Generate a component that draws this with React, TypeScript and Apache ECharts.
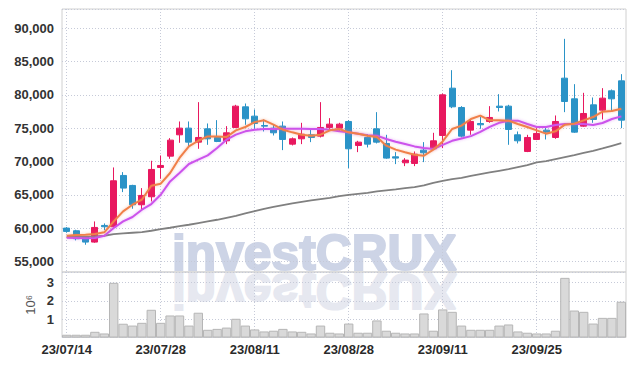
import React, { useEffect, useRef } from 'react';
import * as echarts from 'echarts';

const dates = [
  '23/07/14', '23/07/17', '23/07/18', '23/07/19', '23/07/20', '23/07/21', '23/07/24', '23/07/25', '23/07/26', '23/07/27',
  '23/07/28', '23/07/31', '23/08/01', '23/08/02', '23/08/03', '23/08/04', '23/08/07', '23/08/08', '23/08/09', '23/08/10',
  '23/08/11', '23/08/14', '23/08/16', '23/08/17', '23/08/18', '23/08/21', '23/08/22', '23/08/23', '23/08/24', '23/08/25',
  '23/08/28', '23/08/29', '23/08/30', '23/08/31', '23/09/01', '23/09/04', '23/09/05', '23/09/06', '23/09/07', '23/09/08',
  '23/09/11', '23/09/12', '23/09/13', '23/09/14', '23/09/15', '23/09/18', '23/09/19', '23/09/20', '23/09/21', '23/09/22',
  '23/09/25', '23/09/26', '23/09/27', '23/10/04', '23/10/05', '23/10/06', '23/10/10', '23/10/11', '23/10/12', '23/10/13',
];

const opens = [
  60000, 59600, 58700, 57900, 60400, 60200, 67900, 66400, 63500, 64700,
  69100, 70800, 74000, 75000, 72900, 74900, 73600, 73100, 75100, 78200,
  76800, 75400, 75000, 75300, 72600, 73400, 74000, 73800, 75100, 75000,
  76000, 72400, 73600, 74900, 72700, 70700, 69800, 69700, 71700, 71900,
  73900, 81000, 78100, 74700, 75700, 76000, 78300, 78300, 74000, 71500,
  73300, 74700, 73600, 82500, 79400, 75300, 78500, 77700, 80600, 82100,
];
const closes = [
  59500, 58400, 57900, 60100, 60200, 67100, 66000, 63500, 64900, 68800,
  69400, 73200, 75000, 72900, 73600, 73400, 73000, 74300, 78300, 76400,
  75700, 75300, 74300, 73300, 73400, 74100, 73600, 75100, 75600, 75600,
  71900, 72900, 72600, 72900, 70500, 70500, 70200, 71100, 71300, 73100,
  80000, 78200, 73800, 76000, 75500, 76600, 78100, 74800, 73100, 73600,
  74200, 74400, 76000, 79000, 74400, 77200, 76300, 79500, 79400, 76200,
];
const lows = [
  59300, 58150, 57500, 57800, 59700, 60100, 65400, 62900, 62800, 64000,
  67400, 70400, 72800, 72200, 71900, 72500, 72900, 72600, 75000, 75500,
  74900, 74500, 73900, 71700, 72400, 72600, 72900, 73600, 74600, 74600,
  69000, 71400, 72100, 72700, 70400, 69600, 69300, 69300, 69900, 71800,
  72000, 78000, 73600, 74000, 74900, 75800, 77500, 72500, 72700, 71400,
  73200, 73300, 73400, 77400, 74300, 75200, 75800, 76300, 77500, 75000,
];
const highs = [
  60150, 59750, 58750, 61000, 60700, 69100, 68400, 66500, 66000, 70100,
  70900, 73500, 76000, 76000, 78900, 75700, 76200, 75300, 78500, 78700,
  77800, 76300, 75500, 76000, 73600, 75800, 74800, 78900, 76500, 75800,
  76200, 73100, 74100, 77400, 74000, 71400, 70500, 71500, 72900, 74300,
  80200, 83700, 78300, 76300, 76700, 78300, 80100, 78500, 74500, 74000,
  75000, 75100, 76900, 88400, 81600, 80300, 79600, 81000, 80800, 83100,
];

// volume, in millions of shares
const volumeMillions = [
  0.15, 0.15, 0.15, 0.31, 0.22, 2.98, 0.75, 0.65, 0.8, 1.51,
  0.8, 1.2, 1.2, 0.65, 1.35, 0.42, 0.47, 0.54, 1.02, 0.65,
  0.44, 0.33, 0.37, 0.47, 0.33, 0.31, 0.22, 0.65, 0.26, 0.22,
  0.76, 0.26, 0.26, 0.93, 0.37, 0.26, 0.22, 0.22, 1.31, 0.37,
  1.53, 1.4, 0.65, 0.42, 0.42, 0.42, 0.65, 0.71, 0.33, 0.26,
  0.22, 0.22, 0.37, 3.25, 1.47, 1.4, 0.76, 1.07, 1.07, 1.95,
];

const ma5 = [
  58860, 58960, 59010, 59110, 59360, 61000, 62510, 63510, 64260, 66360,
  66660, 68270, 70520, 72260, 73110, 73760, 73760, 73670, 74670, 75170,
  75900, 76170, 75520, 74770, 74370, 74020, 73870, 74020, 74670, 74870,
  74370, 74170, 73870, 73670, 72370, 71770, 71370, 71020, 70860, 71770,
  73010, 74870, 75370, 76370, 76870, 76170, 76170, 76120, 75620, 75170,
  74670, 74170, 74520, 75520, 75670, 76170, 76670, 77470, 77570, 77920,
];
const ma10 = [
  58560, 58510, 58460, 58510, 58860, 60010, 61010, 61660, 62760, 63610,
  65010, 67010, 68270, 69620, 70270, 70910, 72010, 73270, 74020, 74520,
  74770, 74870, 74870, 74920, 74920, 74920, 74870, 74870, 74770, 74520,
  74370, 74170, 73920, 73870, 73370, 72960, 72620, 72260, 72010, 71870,
  72500, 73100, 73450, 73800, 74450, 75200, 75800, 76120, 76120, 75620,
  75170, 75170, 75470, 75620, 75620, 75620, 75470, 75770, 76370, 76770,
];
const maLong = [
  58700, 58700, 58700, 58750, 58850, 59100, 59200, 59300, 59400, 59600,
  59850, 60050, 60300, 60500, 60750, 61000, 61250, 61550, 61850, 62200,
  62550, 62900, 63200, 63450, 63700, 63950, 64150, 64350, 64550, 64800,
  65000, 65150, 65300, 65500, 65650, 65800, 66000, 66150, 66400, 66800,
  67100, 67350, 67550, 67850, 68100, 68350, 68600, 68850, 69150, 69450,
  69850, 70050, 70350, 70650, 70950, 71300, 71600, 71950, 72350, 72750,
];

const UP = '#e8185f';
const DOWN = '#2a93c7';
const GRID_LINE = '#c6cad8';
const LABEL_FONT = '"Liberation Sans", Arial, sans-serif';

export default function App() {
  const ref = useRef<HTMLDivElement>(null);

  useEffect(() => {
    if (!ref.current) return;
    const chart = echarts.init(ref.current, null, { renderer: 'svg' });
    const dotted = { color: GRID_LINE, width: 1, type: [1, 2] as number[] };
    const wmStyle = {
      text: 'investCRUX',
      fontFamily: '"Liberation Sans", Arial, sans-serif',
      fontWeight: 'bold',
      fontSize: 50.5,
      textAlign: 'left',
      align: 'left',
      textVerticalAlign: 'middle',
      verticalAlign: 'middle',
      lineWidth: 2,
    };
    const option: any = {
      animation: false,
      backgroundColor: '#ffffff',
      graphic: [
        {
          type: 'text',
          x: 172,
          y: 291.5,
          scaleX: 0.985,
          scaleY: -1,
          z: -10,
          silent: true,
          style: { ...wmStyle, fill: '#e6e8f0', stroke: '#e6e8f0' },
        },
        {
          type: 'text',
          x: 172,
          y: 252.5,
          scaleX: 0.985,
          z: -10,
          silent: true,
          style: { ...wmStyle, fill: '#cdd4e6', stroke: '#cdd4e6' },
        },
      ],
      grid: [
        { left: 62, right: 8, top: 9, height: 263, show: true, borderColor: '#d0d0d0', borderWidth: 1 },
        { left: 62, right: 8, top: 272, height: 65.5, show: true, borderColor: '#d0d0d0', borderWidth: 1 },
      ],
      xAxis: [
        {
          type: 'category',
          gridIndex: 0,
          data: dates,
          boundaryGap: true,
          axisLine: { show: false },
          axisTick: { show: false },
          axisLabel: { show: false },
          splitLine: { show: true, interval: 9, alignWithLabel: true, lineStyle: dotted },
        },
        {
          type: 'category',
          gridIndex: 1,
          data: dates,
          boundaryGap: true,
          axisLine: { show: false },
          axisTick: { show: false },
          axisLabel: { interval: 9, margin: 5, fontFamily: LABEL_FONT, fontSize: 13, fontWeight: 'bold', color: '#2a2a2a' },
          splitLine: { show: true, interval: 9, alignWithLabel: true, lineStyle: dotted },
        },
      ],
      yAxis: [
        {
          type: 'value',
          gridIndex: 0,
          min: 53410,
          max: 92880,
          splitNumber: 8,
          axisLine: { show: false },
          axisTick: { show: false },
          axisLabel: {
            showMinLabel: false,
            showMaxLabel: false,
            margin: 8,
            fontFamily: LABEL_FONT,
            fontSize: 13,
            fontWeight: 'bold',
            color: '#333',
            formatter: (v: number) => v.toLocaleString('en-US'),
          },
          splitLine: { show: true, lineStyle: dotted },
        },
        {
          type: 'value',
          gridIndex: 1,
          min: 0,
          max: 3.57,
          splitNumber: 3,
          name: '10\u2076',
          nameLocation: 'middle',
          nameRotate: 90,
          nameGap: 25,
          nameMoveOverlap: false,
          nameTextStyle: { fontFamily: '"Liberation Sans", Arial, sans-serif', fontSize: 13, color: '#555' },
          axisLine: { show: false },
          axisTick: { show: false },
          axisLabel: {
            showMinLabel: false,
            showMaxLabel: false,
            margin: 8,
            fontFamily: LABEL_FONT,
            fontSize: 13,
            fontWeight: 'bold',
            color: '#333',
            formatter: (v: number) => String(v),
          },
          splitLine: { show: true, lineStyle: dotted },
        },
      ],
      series: [
        {
          type: 'bar',
          name: 'Volume',
          xAxisIndex: 1,
          yAxisIndex: 1,
          data: volumeMillions,
          barCategoryGap: '0%',
          itemStyle: { color: '#d9d9d9', borderColor: '#b6b6b6', borderWidth: 1 },
        },
        {
          type: 'candlestick',
          name: 'Price',
          xAxisIndex: 0,
          yAxisIndex: 0,
          barWidth: '70%',
          data: dates.map((_, i) => [opens[i], closes[i], lows[i], highs[i]]),
          itemStyle: { color: UP, color0: DOWN, borderColor: UP, borderColor0: DOWN, borderWidth: 1 },
        },
        {
          type: 'line',
          name: 'MA long',
          xAxisIndex: 0,
          yAxisIndex: 0,
          data: maLong,
          symbol: 'none',
          lineStyle: { color: '#808080', width: 1.8 },
          z: 3,
        },
        {
          type: 'line',
          name: 'MA10',
          xAxisIndex: 0,
          yAxisIndex: 0,
          data: ma10,
          symbol: 'none',
          lineStyle: { color: '#cc52ec', width: 2, shadowColor: 'rgba(204,82,236,0.45)', shadowBlur: 3 },
          z: 3,
        },
        {
          type: 'line',
          name: 'MA5',
          xAxisIndex: 0,
          yAxisIndex: 0,
          data: ma5,
          symbol: 'none',
          lineStyle: { color: '#f0804a', width: 2, shadowColor: 'rgba(240,128,74,0.45)', shadowBlur: 3 },
          z: 4,
        },
      ],
    };
    chart.setOption(option);
    return () => chart.dispose();
  }, []);

  return <div ref={ref} style={{ position: 'fixed', left: 0, top: 0, width: 634, height: 366 }} />;
}
